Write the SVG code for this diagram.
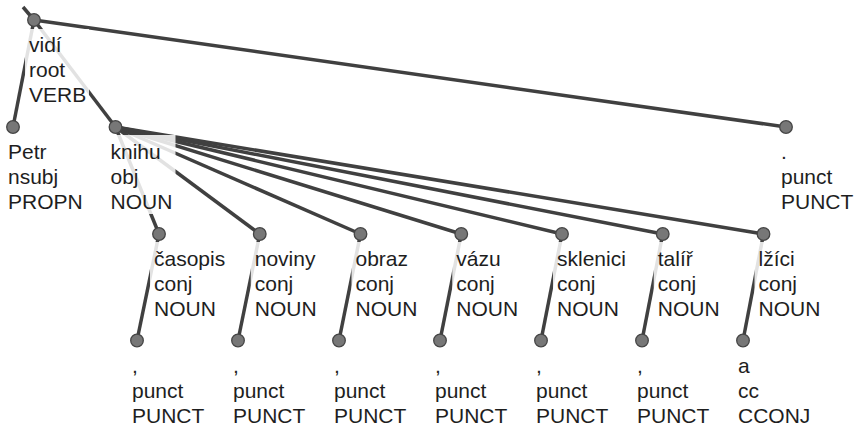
<svg xmlns="http://www.w3.org/2000/svg" width="860" height="428" viewBox="0 0 860 428">
<style>
.e{stroke:#404040;stroke-width:3.5;fill:none}
.b{fill:#fff;fill-opacity:0.85}
.n{fill:#777;stroke:#454545;stroke-width:1.3}
text{font-family:"Liberation Sans",Arial,sans-serif;font-size:21px;fill:#1e1e1e}
</style>
<rect width="860" height="428" fill="#fff"/>
<g id="connectors">
<line class="e" x1="23" y1="7" x2="34" y2="20"/>
<line class="e" x1="34" y1="20" x2="13" y2="127"/>
<line class="e" x1="34" y1="20" x2="115.5" y2="127"/>
<line class="e" x1="34" y1="20" x2="786" y2="127"/>
<line class="e" x1="115.5" y1="127" x2="159" y2="234"/>
<line class="e" x1="115.5" y1="127" x2="259.75" y2="234"/>
<line class="e" x1="115.5" y1="127" x2="360.5" y2="234"/>
<line class="e" x1="115.5" y1="127" x2="461.25" y2="234"/>
<line class="e" x1="115.5" y1="127" x2="562" y2="234"/>
<line class="e" x1="115.5" y1="127" x2="662.75" y2="234"/>
<line class="e" x1="115.5" y1="127" x2="763.5" y2="234"/>
<line class="e" x1="159" y1="234" x2="137" y2="340.5"/>
<line class="e" x1="259.75" y1="234" x2="238" y2="340.5"/>
<line class="e" x1="360.5" y1="234" x2="339" y2="340.5"/>
<line class="e" x1="461.25" y1="234" x2="440" y2="340.5"/>
<line class="e" x1="562" y1="234" x2="541" y2="340.5"/>
<line class="e" x1="662.75" y1="234" x2="642" y2="340.5"/>
<line class="e" x1="763.5" y1="234" x2="743" y2="340.5"/>
</g>
<g id="n-vidi"><rect class="b" x="25" y="29" width="64" height="79"/><circle class="n" cx="34" cy="20" r="6.3"/><text x="29" y="52">vidí</text><text x="29" y="77">root</text><text x="29" y="102">VERB</text></g>
<g id="n-petr"><rect class="b" x="4" y="135" width="82" height="79"/><circle class="n" cx="13" cy="127" r="6.3"/><text x="8" y="159">Petr</text><text x="8" y="184">nsubj</text><text x="8" y="209">PROPN</text></g>
<g id="n-knihu"><rect class="b" x="106.5" y="135" width="69" height="79"/><circle class="n" cx="115.5" cy="127" r="6.3"/><text x="110.5" y="159">knihu</text><text x="110.5" y="184">obj</text><text x="110.5" y="209">NOUN</text></g>
<g id="n-period"><rect class="b" x="777" y="135" width="79" height="79"/><circle class="n" cx="786" cy="127" r="6.3"/><text x="781" y="159">.</text><text x="781" y="184">punct</text><text x="781" y="209">PUNCT</text></g>
<g id="n-casopis"><rect class="b" x="150" y="242" width="78" height="79"/><circle class="n" cx="159" cy="234" r="6.3"/><text x="154" y="266">časopis</text><text x="154" y="291">conj</text><text x="154" y="316">NOUN</text></g>
<g id="n-noviny"><rect class="b" x="250.75" y="242" width="69" height="79"/><circle class="n" cx="259.75" cy="234" r="6.3"/><text x="254.75" y="266">noviny</text><text x="254.75" y="291">conj</text><text x="254.75" y="316">NOUN</text></g>
<g id="n-obraz"><rect class="b" x="351.5" y="242" width="69" height="79"/><circle class="n" cx="360.5" cy="234" r="6.3"/><text x="355.5" y="266">obraz</text><text x="355.5" y="291">conj</text><text x="355.5" y="316">NOUN</text></g>
<g id="n-vazu"><rect class="b" x="452.25" y="242" width="69" height="79"/><circle class="n" cx="461.25" cy="234" r="6.3"/><text x="456.25" y="266">vázu</text><text x="456.25" y="291">conj</text><text x="456.25" y="316">NOUN</text></g>
<g id="n-sklenici"><rect class="b" x="553" y="242" width="76" height="79"/><circle class="n" cx="562" cy="234" r="6.3"/><text x="557" y="266">sklenici</text><text x="557" y="291">conj</text><text x="557" y="316">NOUN</text></g>
<g id="n-talir"><rect class="b" x="653.75" y="242" width="69" height="79"/><circle class="n" cx="662.75" cy="234" r="6.3"/><text x="657.75" y="266">talíř</text><text x="657.75" y="291">conj</text><text x="657.75" y="316">NOUN</text></g>
<g id="n-lzici"><rect class="b" x="754.5" y="242" width="69" height="79"/><circle class="n" cx="763.5" cy="234" r="6.3"/><text x="758.5" y="266">lžíci</text><text x="758.5" y="291">conj</text><text x="758.5" y="316">NOUN</text></g>
<g id="n-comma1"><rect class="b" x="128" y="348.5" width="79" height="79"/><circle class="n" cx="137" cy="340.5" r="6.3"/><text x="132" y="372.5">,</text><text x="132" y="397.5">punct</text><text x="132" y="422.5">PUNCT</text></g>
<g id="n-comma2"><rect class="b" x="229" y="348.5" width="79" height="79"/><circle class="n" cx="238" cy="340.5" r="6.3"/><text x="233" y="372.5">,</text><text x="233" y="397.5">punct</text><text x="233" y="422.5">PUNCT</text></g>
<g id="n-comma3"><rect class="b" x="330" y="348.5" width="79" height="79"/><circle class="n" cx="339" cy="340.5" r="6.3"/><text x="334" y="372.5">,</text><text x="334" y="397.5">punct</text><text x="334" y="422.5">PUNCT</text></g>
<g id="n-comma4"><rect class="b" x="431" y="348.5" width="79" height="79"/><circle class="n" cx="440" cy="340.5" r="6.3"/><text x="435" y="372.5">,</text><text x="435" y="397.5">punct</text><text x="435" y="422.5">PUNCT</text></g>
<g id="n-comma5"><rect class="b" x="532" y="348.5" width="79" height="79"/><circle class="n" cx="541" cy="340.5" r="6.3"/><text x="536" y="372.5">,</text><text x="536" y="397.5">punct</text><text x="536" y="422.5">PUNCT</text></g>
<g id="n-comma6"><rect class="b" x="633" y="348.5" width="79" height="79"/><circle class="n" cx="642" cy="340.5" r="6.3"/><text x="637" y="372.5">,</text><text x="637" y="397.5">punct</text><text x="637" y="422.5">PUNCT</text></g>
<g id="n-a"><rect class="b" x="734" y="348.5" width="79" height="79"/><circle class="n" cx="743" cy="340.5" r="6.3"/><text x="738" y="372.5">a</text><text x="738" y="397.5">cc</text><text x="738" y="422.5">CCONJ</text></g>
</svg>
